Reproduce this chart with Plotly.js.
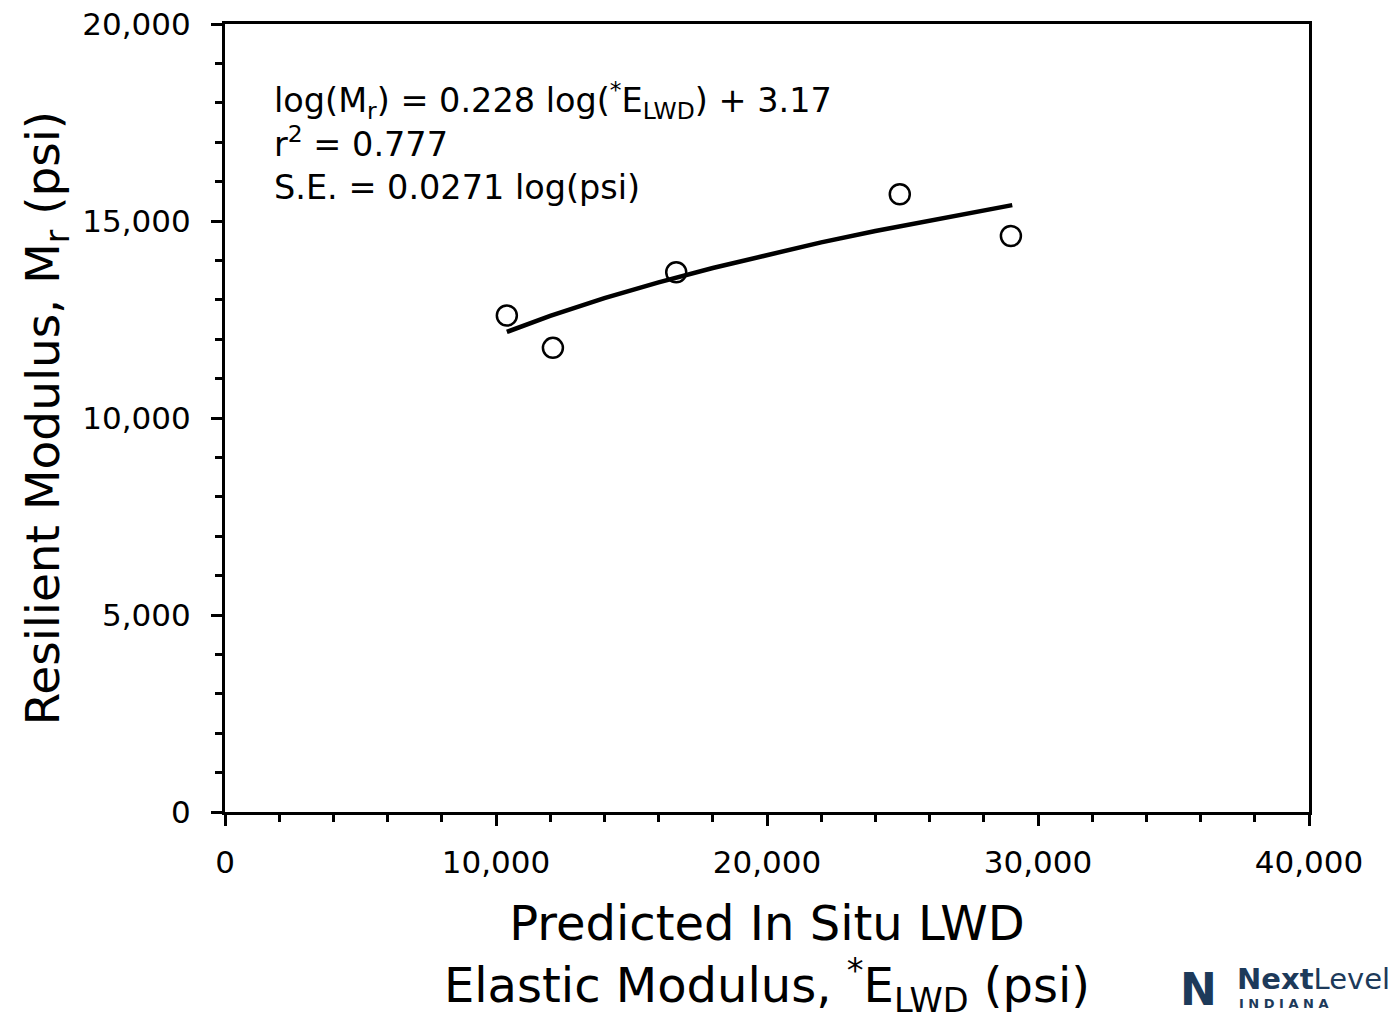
<!DOCTYPE html>
<html>
<head>
<meta charset="utf-8">
<script src="https://cdn.plot.ly/plotly-3.0.1.min.js"></script>
<style>body{margin:0;background:#fff}#chart{width:1394px;height:1020px}</style>
</head>
<body>
<div id="chart"></div>
<script>
// Measured points: predicted in situ LWD elastic modulus vs resilient modulus (psi)
const elwd = [10400, 12100, 16650, 24900, 29000];
const mr = [12600, 11780, 13700, 15680, 14620];
// Fitted curve, values
const fitX = [10400, 12000, 14000, 16000, 18000, 20000, 22000, 24000, 26000, 28000, 29050];
const fitY = [12185, 12590, 13043, 13442, 13808, 14147, 14457, 14747, 15018, 15274, 15403];
const xTicks = [0, 10000, 20000, 30000, 40000];
const yTicks = [0, 5000, 10000, 15000, 20000];
const FONT = "Tahoma, 'DejaVu Sans', sans-serif";

const traces = [
  {x: fitX, y: fitY, mode: 'lines', line: {color: '#000', width: 4.5}, hoverinfo: 'skip'},
  {x: elwd, y: mr, mode: 'markers', marker: {symbol: 'circle-open', size: 20, color: '#000', line: {width: 2.5, color: '#000'}}}
];

const layout = {
  width: 1394, height: 1020,
  margin: {l: 225, r: 85, t: 24, b: 208},
  paper_bgcolor: '#fff', plot_bgcolor: '#fff',
  showlegend: false,
  font: {family: FONT, color: '#000'},
  xaxis: {
    range: [0, 40000], tickvals: xTicks, ticktext: xTicks.map(v => v.toLocaleString('en-US')),
    ticks: 'outside', ticklen: 11, tickwidth: 3, tickcolor: '#000',
    minor: {dtick: 2000, tick0: 0, ticks: 'outside', ticklen: 7, tickwidth: 3, tickcolor: '#000', showgrid: false},
    showline: true, linewidth: 3, linecolor: '#000', mirror: true,
    showgrid: false, zeroline: false,
    ticklabelstandoff: 10,
    tickfont: {size: 31, family: FONT},
    title: {text: 'Predicted In Situ LWD<br>Elastic Modulus, <sup>*</sup>E<sub>LWD</sub> (psi)', font: {size: 48, family: FONT}, standoff: 32}
  },
  yaxis: {
    range: [0, 20000], tickvals: yTicks, ticktext: yTicks.map(v => v.toLocaleString('en-US')),
    ticks: 'outside', ticklen: 11, tickwidth: 3, tickcolor: '#000',
    minor: {dtick: 1000, tick0: 0, ticks: 'outside', ticklen: 7, tickwidth: 3, tickcolor: '#000', showgrid: false},
    showline: true, linewidth: 3, linecolor: '#000', mirror: true,
    showgrid: false, zeroline: false,
    ticklabelstandoff: 14,
    tickfont: {size: 31, family: FONT},
    title: {text: 'Resilient Modulus, M<sub>r</sub> (psi)', font: {size: 47, family: FONT}, standoff: 8}
  },
  annotations: [
    {xref: 'paper', yref: 'paper', x: 0.043, y: 0.937, xanchor: 'left', yanchor: 'top', align: 'left', showarrow: false,
     text: 'log(M<sub>r</sub>) = 0.228 log(<sup>*</sup>E<sub>LWD</sub>) + 3.17<br>r<sup>2</sup> = 0.777<br>S.E. = 0.0271 log(psi)',
     font: {size: 33.5, family: FONT, color: '#000'}},
    {xref: 'paper', yref: 'paper', x: 1.077, y: -0.212, xanchor: 'right', yanchor: 'middle', showarrow: false,
     text: '<b>Next</b>Level', font: {size: 29, family: FONT, color: '#1d3a5a'}},
    {xref: 'paper', yref: 'paper', x: 0.9335, y: -0.243, xanchor: 'left', yanchor: 'middle', showarrow: false,
     text: '<b>I N D I A N A</b>', font: {size: 13, family: FONT, color: '#1d3a5a'}},
    {xref: 'paper', yref: 'paper', x: 0.879, y: -0.225, xanchor: 'left', yanchor: 'middle', showarrow: false,
     text: '<b>N</b>', font: {size: 44, family: FONT, color: '#1d3a5a'}}
  ]
};

Plotly.newPlot('chart', traces, layout, {displayModeBar: false, staticPlot: true});
</script>
</body>
</html>
